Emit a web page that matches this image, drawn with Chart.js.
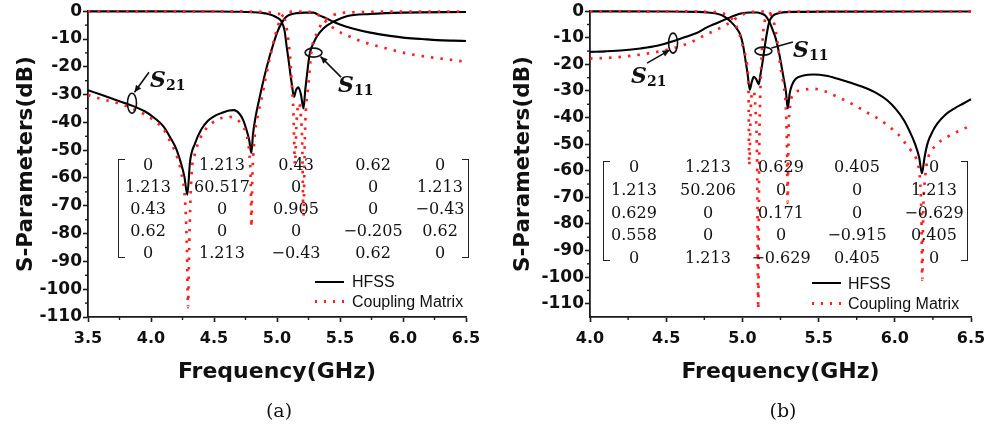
<!DOCTYPE html>
<html>
<head>
<meta charset="utf-8">
<title>S-Parameters: HFSS vs Coupling Matrix</title>
<script src="https://cdn.jsdelivr.net/npm/chart.js@4.4.1/dist/chart.umd.min.js"></script>
<style>
html,body{margin:0;padding:0;background:#fff;}
body{width:985px;height:430px;position:relative;overflow:hidden;}
canvas{position:absolute;top:0;display:block;}
.cell{position:absolute;transform:translate(-50%,-50%);white-space:nowrap;line-height:16px;font-family:"DejaVu Serif",serif;font-size:16px;color:#111;}
.brl,.brr{position:absolute;border:1.5px solid #222;width:7px;box-sizing:border-box;}
.brl{border-right:none;}
.brr{border-left:none;}
.lgline{position:absolute;height:2px;background:#000;}
.lgdots{position:absolute;height:2.5px;background:repeating-linear-gradient(to right,#ff1f1f 0 2.5px,transparent 2.5px 9px);}
.lgtxt{position:absolute;font-family:"Liberation Sans",Arial,sans-serif;font-size:16px;line-height:16px;color:#111;white-space:nowrap;}
.cap{position:absolute;top:399px;font-family:"DejaVu Serif",serif;font-size:19px;line-height:22px;color:#111;transform:translateX(-50%);}
.sl{position:absolute;font-family:"DejaVu Serif",serif;font-weight:bold;font-size:22px;color:#111;white-space:nowrap;}
.sl i{font-style:italic;}
.sl span{font-size:14px;position:relative;top:3px;font-style:normal;}
</style>
</head>
<body>
<canvas id="ca" width="490" height="400" style="left:0;width:490px;height:400px"></canvas>
<canvas id="cb" width="510" height="400" style="left:490px;width:510px;height:400px"></canvas>

<div class="sl" style="left:150px;top:66px"><i>S</i><span>21</span></div>
<div class="sl" style="left:338px;top:71px"><i>S</i><span>11</span></div>
<div class="sl" style="left:631px;top:62px"><i>S</i><span>21</span></div>
<div class="sl" style="left:793px;top:36px"><i>S</i><span>11</span></div>

<div class="lgline" style="left:315px;top:281px;width:29px"></div>
<div class="lgtxt" style="left:352px;top:274px">HFSS</div>
<div class="lgdots" style="left:315px;top:300px;width:29px"></div>
<div class="lgtxt" style="left:352px;top:294px">Coupling Matrix</div>

<div class="lgline" style="left:812px;top:282px;width:29px"></div>
<div class="lgtxt" style="left:848px;top:276px">HFSS</div>
<div class="lgdots" style="left:812px;top:302px;width:29px"></div>
<div class="lgtxt" style="left:848px;top:296px">Coupling Matrix</div>

<div class="cap" style="left:279px">(a)</div>
<div class="cap" style="left:783px">(b)</div>

<script>
// ---------------- Data: panel (a) ----------------
const a_xTicks = [3.5, 4.0, 4.5, 5.0, 5.5, 6.0, 6.5];
const a_yTicks = [0, -10, -20, -30, -40, -50, -60, -70, -80, -90, -100, -110];

const a_hfss_s21_f  = [3.5,3.6,3.7,3.84,3.95,4.03,4.1,4.16,4.2,4.24,4.265,4.288,4.31,4.35,4.4,4.45,4.5,4.56,4.62,4.66,4.7,4.73,4.76,4.78,4.796,4.81,4.83,4.86,4.9,4.94,4.97,5.0,5.037,5.07,5.1,5.16,5.22,5.29,5.34,5.394,5.447,5.5,5.6,5.74,5.87,6.0,6.15,6.27,6.4,6.5];
const a_hfss_s21_db = [-28.4,-30,-31.6,-33.8,-36,-38.5,-41.5,-46,-49.5,-55,-59.5,-66,-54,-47.5,-42.5,-39.5,-37.8,-36.6,-35.7,-35.6,-36.8,-39,-43,-46.5,-51,-44,-38,-31.5,-23.5,-16.5,-12,-7.8,-4.2,-2.2,-1.3,-0.7,-0.5,-0.5,-1.6,-2.6,-3.8,-4.8,-6.2,-7.7,-8.7,-9.5,-10.0,-10.4,-10.6,-10.7];

const a_cm_s21_f  = [3.5,3.6,3.765,3.9,4.03,4.1,4.16,4.2,4.24,4.27,4.285,4.294,4.303,4.32,4.35,4.373,4.41,4.45,4.53,4.61,4.66,4.69,4.73,4.756,4.78,4.792,4.797,4.803,4.82,4.85,4.875,4.91,4.94,4.99,5.03,5.07,5.1,5.2,5.25,5.3,5.34,5.37,5.42,5.47,5.58,5.68,5.87,6.03,6.19,6.4,6.5];
const a_cm_s21_db = [-30.2,-31.5,-33.5,-36,-39.5,-42.5,-47.6,-51.5,-58,-68,-85,-106.5,-85,-60,-51,-47.6,-44,-41.6,-39,-38,-38.3,-39.2,-41.5,-44,-51,-62,-77.6,-62,-46.4,-37,-32,-24,-17.6,-8,-2.6,-0.6,-0.2,-0.1,-0.2,-0.6,-1.8,-3,-5,-6.8,-9.2,-11,-13.4,-15.2,-16.4,-17.6,-18.2];

const a_hfss_s11_f  = [3.5,4.0,4.5,4.7,4.8,4.88,4.93,4.97,5.0,5.037,5.06,5.077,5.09,5.103,5.12,5.135,5.15,5.17,5.19,5.21,5.225,5.236,5.26,5.29,5.315,5.368,5.447,5.553,5.74,6.0,6.5];
const a_hfss_s11_db = [-0.05,-0.05,-0.1,-0.2,-0.35,-0.6,-1.0,-1.6,-2.3,-3.8,-7,-12.8,-17,-21.5,-27,-30.8,-28.5,-27.4,-30,-35,-28,-23.6,-15.2,-11.5,-9.2,-6.2,-3.8,-1.8,-1.0,-0.5,-0.3];

const a_cm_s11_f  = [3.5,4.5,4.8,4.9,4.97,5.0,5.05,5.07,5.09,5.105,5.117,5.13,5.143,5.155,5.175,5.19,5.2,5.21,5.222,5.25,5.275,5.315,5.368,5.447,5.55,6.0,6.5];
const a_cm_s11_db = [-0.02,-0.05,-0.15,-0.3,-0.6,-0.9,-1.5,-4.5,-10.4,-17,-26,-36,-55,-40,-33,-38,-47,-74,-44,-26,-14,-8,-3.8,-1.4,-0.5,-0.15,-0.1];

const a_matrix = [
  ["0","1.213","0.43","0.62","0"],
  ["1.213","60.517","0","0","1.213"],
  ["0.43","0","0.905","0","\u22120.43"],
  ["0.62","0","0","\u22120.205","0.62"],
  ["0","1.213","\u22120.43","0.62","0"]
];

// ---------------- Data: panel (b) ----------------
const b_xTicks = [4.0, 4.5, 5.0, 5.5, 6.0, 6.5];
const b_yTicks = [0, -10, -20, -30, -40, -50, -60, -70, -80, -90, -100, -110];

const b_hfss_s21_f  = [4.0,4.1,4.22,4.33,4.44,4.55,4.62,4.7,4.77,4.83,4.9,4.95,4.99,5.05,5.1,5.12,5.15,5.175,5.195,5.22,5.245,5.27,5.285,5.298,5.31,5.325,5.35,5.4,5.47,5.55,5.62,5.7,5.8,5.88,5.95,6.01,6.06,6.1,6.13,6.16,6.178,6.195,6.215,6.25,6.28,6.33,6.39,6.45,6.5];
const b_hfss_s21_db = [-15.3,-15.1,-14.7,-14.0,-13.0,-11.2,-9.8,-8.2,-6.0,-4.5,-2.8,-1.6,-0.9,-0.5,-0.5,-0.8,-1.6,-3.8,-6.5,-10.5,-17,-25,-30,-36.6,-31,-27.8,-25.4,-24.2,-23.8,-24.3,-25.3,-26.7,-28.7,-30.8,-33.5,-37,-41,-45.5,-49.5,-55,-61,-55,-49.7,-45,-42.2,-39,-36.6,-34.7,-33.1];

const b_cm_s21_f  = [4.0,4.1,4.22,4.33,4.44,4.53,4.61,4.67,4.72,4.78,4.83,4.88,4.92,4.96,5.0,5.04,5.1,5.15,5.175,5.195,5.21,5.228,5.25,5.272,5.285,5.292,5.297,5.302,5.315,5.338,5.38,5.47,5.55,5.623,5.69,5.755,5.83,5.908,5.96,6.018,6.06,6.105,6.15,6.165,6.175,6.18,6.187,6.2,6.215,6.26,6.347,6.434,6.5];
const b_cm_s21_db = [-17.8,-17.6,-17.1,-16.3,-15.3,-14.2,-12.8,-11.5,-10.0,-8.3,-7.0,-5.5,-4.2,-2.6,-1.3,-0.5,-0.1,-0.2,-0.8,-2.1,-5,-10.9,-21,-28.5,-36,-50,-72,-48,-35,-31,-29.8,-29.2,-30.3,-32.2,-34,-36,-38.5,-41,-43.3,-46,-49,-52.3,-57.3,-63,-78,-101,-75,-62,-56,-51,-47.2,-44.7,-43];

const b_hfss_s11_f  = [4.0,4.5,4.7,4.77,4.83,4.87,4.9,4.93,4.96,4.987,5.005,5.02,5.035,5.048,5.062,5.075,5.09,5.107,5.118,5.13,5.145,5.16,5.175,5.19,5.21,5.25,5.35,5.6,6.5];
const b_hfss_s11_db = [-0.05,-0.1,-0.25,-0.45,-0.9,-1.6,-2.8,-4.3,-6.3,-9,-13,-18.4,-24,-29.5,-26.5,-24.7,-25.5,-27.5,-24,-20,-14,-8.5,-4.2,-2.4,-1.3,-0.6,-0.25,-0.15,-0.1];

const b_cm_s11_f  = [4.0,4.5,4.8,4.88,4.93,4.976,5.009,5.03,5.04,5.045,5.055,5.07,5.085,5.097,5.104,5.11,5.118,5.128,5.14,5.16,5.2,5.3,6.5];
const b_cm_s11_db = [-0.02,-0.05,-0.3,-1.0,-2.8,-7.8,-14.7,-20,-30,-58,-36,-30,-36,-60,-112,-55,-30,-15,-6,-2,-0.6,-0.2,-0.05];

const b_matrix = [
  ["0","1.213","0.629","0.405","0"],
  ["1.213","50.206","0","0","1.213"],
  ["0.629","0","0.171","0","\u22120.629"],
  ["0.558","0","0","\u22120.915","0.405"],
  ["0","1.213","\u22120.629","0.405","0"]
];

// ---------------- Layout / styling (kept separate from data) ----------------
const matLayoutA = {cols:[148,222,296,373,440], row0:165, rowStep:22, brL:118, brR:469, brTop:159, brBot:258};
const matLayoutB = {cols:[634,708,781,857,934], row0:167, rowStep:22.75, brL:603, brR:968, brTop:161, brBot:261};

// annotation ellipses anchored in data units; arrow offsets in px from the ellipse centre
const a_marks = [
  {f:3.849, db:-33.1, rx:4.5, ry:10, from:[17,-31], to:[2.5,-11], head:true},
  {f:5.29,  db:-14.9, rx:8.5, ry:4.5, from:[27.5,24.5], to:[7,4], head:true}
];
const b_marks = [
  {f:4.545, db:-12.0, rx:4.5, ry:10, from:[-26,20], to:[-3.5,7], head:true},
  {f:5.138, db:-15.0, rx:8.5, ry:4,  from:[29.5,-9], to:[8,-3], head:false}
];

const BLACK = '#000000';
const RED = '#ff1f1f';

function pts(f, db){ return f.map((x,i)=>({x:x, y:db[i]})); }
function ds(label, f, db, dotted){
  return {
    label: label, data: pts(f, db),
    borderColor: dotted ? RED : BLACK,
    borderWidth: dotted ? 2.7 : 2.1,
    borderDash: dotted ? [2.5,7] : [],
    borderCapStyle: 'butt',
    pointRadius: 0, fill: false,
    cubicInterpolationMode: 'monotone',
    clip: 4
  };
}
function mids(arr){ const m=[]; for(let i=0;i<arr.length-1;i++) m.push((arr[i]+arr[i+1])/2); return m; }

function makeOverlay(marks, xTicks, yTicks){
  return {
    id: 'overlay',
    afterDatasetsDraw(chart){
      const ctx = chart.ctx, xs = chart.scales.x, ys = chart.scales.y;
      ctx.save();
      ctx.strokeStyle = '#111'; ctx.fillStyle = '#111'; ctx.lineWidth = 1.6;
      marks.forEach(m=>{
        const cx = xs.getPixelForValue(m.f), cy = ys.getPixelForValue(m.db);
        ctx.beginPath(); ctx.ellipse(cx, cy, m.rx, m.ry, 0, 0, Math.PI*2); ctx.stroke();
        const x1 = cx+m.from[0], y1 = cy+m.from[1], x2 = cx+m.to[0], y2 = cy+m.to[1];
        ctx.beginPath(); ctx.moveTo(x1,y1); ctx.lineTo(x2,y2); ctx.stroke();
        if (m.head){
          const a = Math.atan2(y2-y1, x2-x1), L = 7, W = 3.2;
          ctx.beginPath();
          ctx.moveTo(x2, y2);
          ctx.lineTo(x2 - L*Math.cos(a) + W*Math.sin(a), y2 - L*Math.sin(a) - W*Math.cos(a));
          ctx.lineTo(x2 - L*Math.cos(a) - W*Math.sin(a), y2 - L*Math.sin(a) + W*Math.cos(a));
          ctx.closePath(); ctx.fill();
        }
      });
      ctx.restore();
    },
    afterDraw(chart){
      const ctx = chart.ctx, xs = chart.scales.x, ys = chart.scales.y, ca = chart.chartArea;
      ctx.save();
      ctx.strokeStyle = '#1a1a1a'; ctx.lineWidth = 1.4;
      mids(xTicks).forEach(v=>{ const p = xs.getPixelForValue(v); ctx.beginPath(); ctx.moveTo(p, ca.bottom); ctx.lineTo(p, ca.bottom+3); ctx.stroke(); });
      mids(yTicks).forEach(v=>{ const p = ys.getPixelForValue(v); ctx.beginPath(); ctx.moveTo(ca.left, p); ctx.lineTo(ca.left-3, p); ctx.stroke(); });
      ctx.restore();
    }
  };
}

function makeChart(id, c){
  return new Chart(document.getElementById(id), {
    type: 'line',
    data: { datasets: c.datasets },
    options: {
      responsive: false, animation: false, events: [],
      layout: { padding: { left: c.padL, top: 11, right: c.padR, bottom: 0 } },
      plugins: { legend: { display: false }, tooltip: { enabled: false } },
      scales: {
        x: {
          type: 'linear', min: c.xMin, max: c.xMax,
          afterBuildTicks: s => { s.ticks = c.xTicks.map(v=>({value:v})); },
          afterFit: s => { s.height = 83; },
          grid: { display: true, drawOnChartArea: false, drawTicks: true, tickLength: 5, tickWidth: 1.6, tickColor: '#1a1a1a' },
          border: { display: true, color: '#1a1a1a', width: 1.8 },
          ticks: { color: '#111', padding: 7, maxRotation: 0, autoSkip: false,
                   font: { family: 'DejaVu Sans', weight: 'bold', size: 16 },
                   callback: v => Number(v).toFixed(1) },
          title: { display: true, text: 'Frequency(GHz)', color: '#111',
                   font: { family: 'DejaVu Sans', weight: 'bold', size: 22 },
                   padding: { top: 0, bottom: 15 } }
        },
        y: {
          type: 'linear', min: c.yMin, max: 0,
          afterBuildTicks: s => { s.ticks = c.yTicks.map(v=>({value:v})); },
          afterFit: s => { s.width = c.yW; },
          grid: { display: true, drawOnChartArea: false, drawTicks: true, tickLength: 5, tickWidth: 1.6, tickColor: '#1a1a1a' },
          border: { display: true, color: '#1a1a1a', width: 1.8 },
          ticks: { color: '#111', padding: 1, autoSkip: false,
                   font: { family: 'DejaVu Sans', weight: 'bold', size: 17 },
                   callback: v => String(v) },
          title: { display: true, text: 'S-Parameters(dB)', color: '#111',
                   font: { family: 'DejaVu Sans', weight: 'bold', size: 21.5 },
                   padding: { top: 0, bottom: 0 } }
        }
      }
    },
    plugins: [ makeOverlay(c.marks, c.xTicks, c.yTicks) ]
  });
}

makeChart('ca', {
  datasets: [
    ds('Coupling Matrix S11', a_cm_s11_f, a_cm_s11_db, true),
    ds('Coupling Matrix S21', a_cm_s21_f, a_cm_s21_db, true),
    ds('HFSS S11', a_hfss_s11_f, a_hfss_s11_db, false),
    ds('HFSS S21', a_hfss_s21_f, a_hfss_s21_db, false)
  ],
  xMin: 3.5, xMax: 6.5, yMin: -110, xTicks: a_xTicks, yTicks: a_yTicks,
  padL: 14, padR: 24, yW: 74, marks: a_marks
});

makeChart('cb', {
  datasets: [
    ds('Coupling Matrix S11', b_cm_s11_f, b_cm_s11_db, true),
    ds('Coupling Matrix S21', b_cm_s21_f, b_cm_s21_db, true),
    ds('HFSS S11', b_hfss_s11_f, b_hfss_s11_db, false),
    ds('HFSS S21', b_hfss_s21_f, b_hfss_s21_db, false)
  ],
  xMin: 4.0, xMax: 6.5, yMin: -115, xTicks: b_xTicks, yTicks: b_yTicks,
  padL: 21, padR: 29, yW: 79, marks: b_marks
});

// coupling-matrix overlays (real text)
function drawMatrix(mat, L){
  const body = document.body;
  mat.forEach((row, r)=>{
    row.forEach((txt, c)=>{
      const d = document.createElement('div');
      d.className = 'cell';
      d.textContent = txt;
      d.style.left = L.cols[c] + 'px';
      d.style.top = (L.row0 + r*L.rowStep) + 'px';
      body.appendChild(d);
    });
  });
  const bl = document.createElement('div');
  bl.className = 'brl';
  bl.style.left = L.brL + 'px'; bl.style.top = L.brTop + 'px'; bl.style.height = (L.brBot - L.brTop) + 'px';
  body.appendChild(bl);
  const br = document.createElement('div');
  br.className = 'brr';
  br.style.left = (L.brR - 7) + 'px'; br.style.top = L.brTop + 'px'; br.style.height = (L.brBot - L.brTop) + 'px';
  body.appendChild(br);
}
drawMatrix(a_matrix, matLayoutA);
drawMatrix(b_matrix, matLayoutB);
</script>
</body>
</html>
